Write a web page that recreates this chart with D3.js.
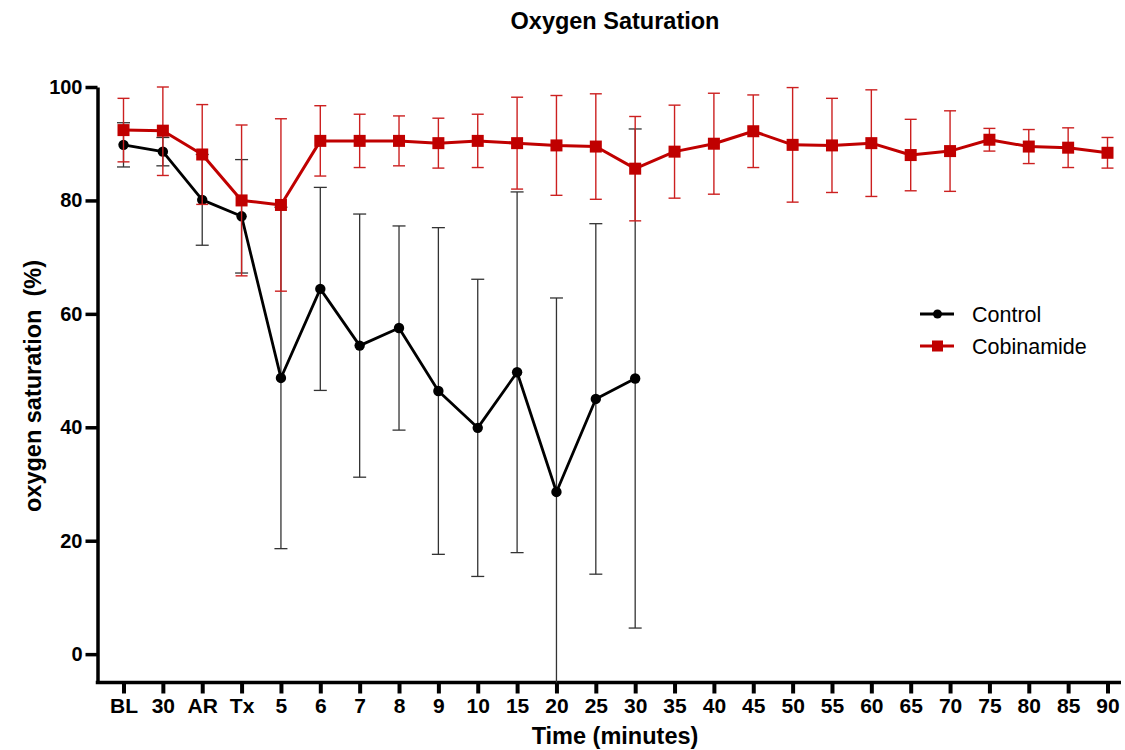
<!DOCTYPE html>
<html>
<head>
<meta charset="utf-8">
<script src="https://cdn.jsdelivr.net/npm/d3@7"></script>
<style>
  html, body { margin: 0; padding: 0; background: #fff; }
  svg { display: block; font-family: "Liberation Sans", Arial, sans-serif; }
</style>
</head>
<body>
<svg id="chart" width="1125" height="750"></svg>
<script>
// Time points (minutes); "30" appears twice so positions are keyed by index
const timeLabels = ["BL","30","AR","Tx","5","6","7","8","9","10","15","20","25","30",
                    "35","40","45","50","55","60","65","70","75","80","85","90"];

// Control group: mean and SD of oxygen saturation (%)
const controlMean = [89.8, 88.6, 80.1, 77.2, 48.7, 64.4, 54.4, 57.5, 46.4, 39.9, 49.7, 28.6, 45.0, 48.6];
const controlSD   = [3.9, 2.5, 8.0, 10.0, 30.1, 17.9, 23.2, 18.0, 28.8, 26.2, 31.8, 34.2, 30.9, 44.0];

// Cobinamide group: mean and SD of oxygen saturation (%)
const cobinamideMean = [92.4, 92.3, 88.1, 80.0, 79.2, 90.5, 90.5, 90.5, 90.1, 90.5, 90.1, 89.7, 89.5,
                        85.6, 88.6, 90.0, 92.2, 89.8, 89.7, 90.1, 88.0, 88.7, 90.7, 89.5, 89.3, 88.4];
const cobinamideSD   = [5.6, 7.9, 8.8, 13.3, 15.2, 6.2, 4.7, 4.4, 4.4, 4.7, 8.1, 8.8, 9.3,
                        9.2, 8.2, 8.9, 6.4, 10.1, 8.3, 9.4, 6.3, 7.1, 2.0, 3.0, 3.5, 2.7];

const yTicks = [0, 20, 40, 60, 80, 100];

const RED = "#c00000";
const svg = d3.select("#chart");

const x = d3.scalePoint()
  .domain(d3.range(timeLabels.length))
  .range([123.5, 1107.5]);

const y = d3.scaleLinear()
  .domain([-5, 100])
  .range([682.5, 87])
  .clamp(true);

const axisLeftX = 97.5;
const axisRightX = 1121;

// ---- Axes ----
const yAxis = svg.append("g")
  .attr("transform", `translate(${axisLeftX},0)`)
  .call(d3.axisLeft(y).tickValues(yTicks).tickSize(12).tickSizeOuter(0).tickPadding(3));
yAxis.select(".domain").attr("stroke", "#000").attr("stroke-width", 3.5);
yAxis.selectAll(".tick line").attr("stroke", "#000").attr("stroke-width", 3.5);
yAxis.selectAll(".tick text")
  .attr("font-size", 20).attr("font-weight", "bold").attr("fill", "#000")
  .attr("font-family", "'Liberation Sans', Arial, sans-serif");

const xAxisY = y(-5);
const xAxis = svg.append("g")
  .attr("transform", `translate(0,${xAxisY})`)
  .call(d3.axisBottom(x).tickFormat(i => timeLabels[i]).tickSize(11).tickSizeOuter(0).tickPadding(5));
xAxis.select(".domain").remove();
xAxis.selectAll(".tick line").attr("stroke", "#000").attr("stroke-width", 4);
xAxis.selectAll(".tick text")
  .attr("font-size", 21).attr("font-weight", "bold").attr("fill", "#000")
  .attr("font-family", "'Liberation Sans', Arial, sans-serif");
svg.append("line")
  .attr("x1", axisLeftX - 1.75).attr("x2", axisRightX)
  .attr("y1", xAxisY).attr("y2", xAxisY)
  .attr("stroke", "#000").attr("stroke-width", 3.5);

// ---- Series drawing ----
function drawSeries(mean, sd, opts) {
  const data = mean.map((m, i) => ({ i, m, s: sd[i] }));
  const g = svg.append("g");

  // error bars
  const eb = g.append("g").attr("stroke", opts.barColor).attr("stroke-width", opts.barWidth).attr("fill", "none");
  data.forEach(d => {
    const cx = x(d.i);
    const hi = y(d.m + d.s), lo = y(d.m - d.s);
    eb.append("line").attr("x1", cx).attr("x2", cx).attr("y1", hi).attr("y2", lo);
    eb.append("line").attr("x1", cx - opts.cap).attr("x2", cx + opts.cap).attr("y1", hi).attr("y2", hi);
    if (d.m - d.s > -5) {
      eb.append("line").attr("x1", cx - opts.cap).attr("x2", cx + opts.cap).attr("y1", lo).attr("y2", lo);
    }
  });

  // connecting line
  g.append("path")
    .datum(data)
    .attr("fill", "none")
    .attr("stroke", opts.color)
    .attr("stroke-width", opts.lineWidth)
    .attr("stroke-linejoin", "round")
    .attr("d", d3.line().x(d => x(d.i)).y(d => y(d.m)));

  // markers
  if (opts.shape === "circle") {
    g.selectAll("circle.pt").data(data).join("circle")
      .attr("class", "pt")
      .attr("cx", d => x(d.i)).attr("cy", d => y(d.m))
      .attr("r", 5.2).attr("fill", opts.color);
  } else {
    g.selectAll("rect.pt").data(data).join("rect")
      .attr("class", "pt")
      .attr("x", d => x(d.i) - 6).attr("y", d => y(d.m) - 6)
      .attr("width", 12).attr("height", 12).attr("fill", opts.color);
  }
}

drawSeries(controlMean, controlSD, {
  color: "#000", barColor: "#333", barWidth: 1.3, cap: 6.5, lineWidth: 2.8, shape: "circle"
});
drawSeries(cobinamideMean, cobinamideSD, {
  color: RED, barColor: "#cc2020", barWidth: 1.4, cap: 6, lineWidth: 3, shape: "square"
});

// ---- Titles ----
svg.append("text")
  .attr("x", 615).attr("y", 29)
  .attr("text-anchor", "middle")
  .attr("font-size", 23.5).attr("font-weight", "bold")
  .text("Oxygen Saturation");

svg.append("text")
  .attr("x", 615).attr("y", 744)
  .attr("text-anchor", "middle")
  .attr("font-size", 23.5).attr("font-weight", "bold")
  .text("Time (minutes)");

svg.append("text")
  .attr("transform", "translate(41,386) rotate(-90)")
  .attr("text-anchor", "middle")
  .attr("font-size", 23.5).attr("font-weight", "bold")
  .attr("xml:space", "preserve")
  .style("white-space", "pre")
  .text("oxygen saturation  (%)");

// ---- Legend ----
const legend = svg.append("g");
const legendItems = [
  { label: "Control", color: "#000", shape: "circle", y: 314 },
  { label: "Cobinamide", color: RED, shape: "square", y: 346 }
];
legendItems.forEach(it => {
  legend.append("line")
    .attr("x1", 920).attr("x2", 954).attr("y1", it.y).attr("y2", it.y)
    .attr("stroke", it.color).attr("stroke-width", 2.8);
  if (it.shape === "circle") {
    legend.append("circle").attr("cx", 937.5).attr("cy", it.y).attr("r", 4.5).attr("fill", it.color);
  } else {
    legend.append("rect").attr("x", 932).attr("y", it.y - 5.5).attr("width", 11).attr("height", 11).attr("fill", it.color);
  }
  legend.append("text")
    .attr("x", 972).attr("y", it.y + 7.5)
    .attr("font-size", 21.5)
    .attr("fill", "#000")
    .text(it.label);
});
</script>
</body>
</html>
